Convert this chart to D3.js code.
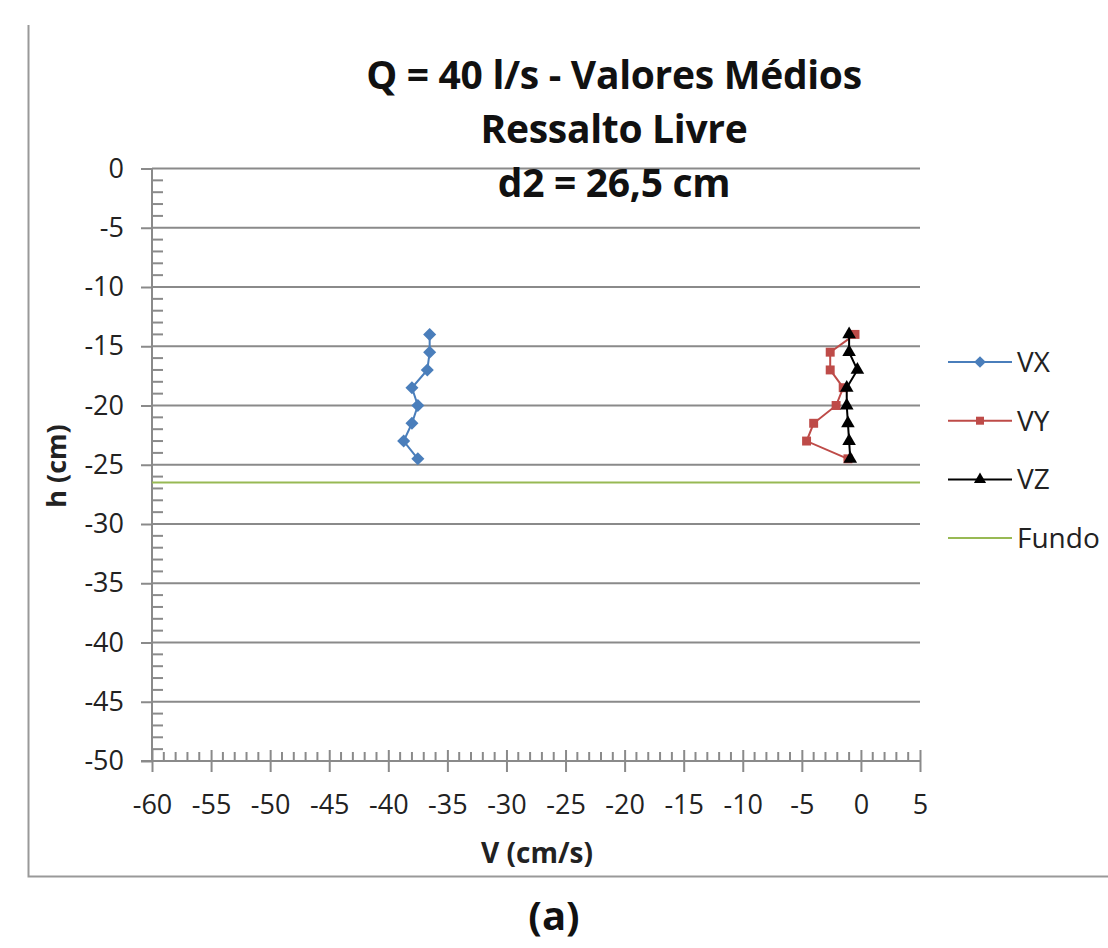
<!DOCTYPE html>
<html>
<head>
<meta charset="utf-8">
<script src="https://cdn.jsdelivr.net/npm/d3@7"></script>
<style>
  body { margin: 0; background: #fff; }
  svg { display: block; font-family: "Open Sans", Lato, sans-serif; }
</style>
</head>
<body>
<svg id="chart" width="1108" height="948"></svg>
<script>
// ----------- DATA -----------
const hLevels = [-14, -15.5, -17, -18.5, -20, -21.5, -23, -24.5];
const vx = [-36.5, -36.5, -36.7, -38.0, -37.5, -38.0, -38.7, -37.5];
const vy = [-0.5, -2.6, -2.6, -1.5, -2.1, -4.0, -4.6, -1.1];
const vz = [-1.0, -1.0, -0.3, -1.2, -1.2, -1.1, -1.0, -0.9];
const fundoH = -26.5;
const xTicks = d3.range(-60, 6, 5);
const yTicks = d3.range(0, -51, -5);
const titleLines = ["Q = 40 l/s - Valores Médios", "Ressalto Livre", "d2 = 26,5 cm"];

const series = [
  { name: "VX", values: vx, color: "#4a7ebb", symbol: d3.symbolSquare, size: 85, rot: 45 },
  { name: "VY", values: vy, color: "#be4b48", symbol: d3.symbolSquare, size: 80, rot: 0 },
  { name: "VZ", values: vz, color: "#000000", symbol: d3.symbolTriangle, size: 80, rot: 0 }
];

// ----------- SCALES -----------
const svg = d3.select("#chart");
const x = d3.scaleLinear().domain([-60, 5]).range([152, 920]);
const y = d3.scaleLinear().domain([0, -50]).range([168.5, 761]);
const axisColor = "#8a8a8a";
const fmt = d => String(d);

// outer frame (left + bottom only)
svg.append("path")
  .attr("d", "M28.5,25 V876.5 H1108")
  .attr("fill", "none")
  .attr("stroke", "#999")
  .attr("stroke-width", 2);

// gridlines
svg.append("g").selectAll("line")
  .data(yTicks.filter(t => t !== -50))
  .enter().append("line")
  .attr("x1", x(-60)).attr("x2", x(5))
  .attr("y1", d => y(d)).attr("y2", d => y(d))
  .attr("stroke", axisColor).attr("stroke-width", 2);

// y axis: major ticks outward, minor ticks inward
const yAxis = svg.append("g").attr("transform", `translate(${x(-60)},0)`);
yAxis.call(d3.axisLeft(y).tickValues(yTicks).tickFormat(fmt).tickSize(11).tickPadding(17))
  .call(g => g.select(".domain").remove())
  .attr("font-family", null).attr("font-size", 27);
yAxis.selectAll(".tick line").attr("stroke", axisColor).attr("stroke-width", 2);
yAxis.selectAll(".tick text").attr("fill", "#222");
yAxis.append("g").selectAll("line")
  .data(d3.range(0, -50, -1).filter(v => v % 5 !== 0))
  .enter().append("line")
  .attr("x1", 0).attr("x2", 11)
  .attr("y1", d => y(d)).attr("y2", d => y(d))
  .attr("stroke", axisColor).attr("stroke-width", 2);
yAxis.append("line")
  .attr("y1", y(0)).attr("y2", y(-50))
  .attr("stroke", axisColor).attr("stroke-width", 2);

// x axis: major ticks cross, minor ticks inward
const xAxis = svg.append("g").attr("transform", `translate(0,${y(-50)})`);
xAxis.call(d3.axisBottom(x).tickValues(xTicks).tickFormat(fmt).tickSize(11).tickPadding(23))
  .call(g => g.select(".domain").remove())
  .attr("font-family", null).attr("font-size", 27);
xAxis.selectAll(".tick line").attr("y1", -11).attr("stroke", axisColor).attr("stroke-width", 2);
xAxis.selectAll(".tick text").attr("fill", "#222");
xAxis.append("g").selectAll("line")
  .data(d3.range(-59, 5, 1).filter(v => v % 5 !== 0))
  .enter().append("line")
  .attr("x1", d => x(d)).attr("x2", d => x(d))
  .attr("y1", 0).attr("y2", -9)
  .attr("stroke", axisColor).attr("stroke-width", 2);
xAxis.append("line")
  .attr("x1", x(-60) - 11).attr("x2", x(5))
  .attr("stroke", axisColor).attr("stroke-width", 2);

// Fundo line
svg.append("line")
  .attr("x1", x(-60)).attr("x2", x(5))
  .attr("y1", y(fundoH)).attr("y2", y(fundoH))
  .attr("stroke", "#98b954").attr("stroke-width", 2);

// series
const line = d3.line().x(d => x(d[0])).y(d => y(d[1]));
series.forEach(s => {
  const pts = s.values.map((v, i) => [v, hLevels[i]]);
  svg.append("path")
    .datum(pts)
    .attr("d", line)
    .attr("fill", "none")
    .attr("stroke", s.color)
    .attr("stroke-width", 2);
  svg.append("g").selectAll("path")
    .data(pts)
    .enter().append("path")
    .attr("transform", d => `translate(${x(d[0])},${y(d[1])}) rotate(${s.rot})`)
    .attr("d", d3.symbol().type(s.symbol).size(s.size))
    .attr("fill", s.color);
});

// legend
const legendItems = series.concat([{ name: "Fundo", color: "#98b954", symbol: null }]);
const legend = svg.append("g");
legendItems.forEach((s, i) => {
  const ly = 362 + i * 58.7;
  legend.append("line")
    .attr("x1", 948).attr("x2", 1012)
    .attr("y1", ly).attr("y2", ly)
    .attr("stroke", s.color).attr("stroke-width", 2);
  if (s.symbol) {
    legend.append("path")
      .attr("transform", `translate(980,${ly}) rotate(${s.rot})`)
      .attr("d", d3.symbol().type(s.symbol).size(s.size * 0.8))
      .attr("fill", s.color);
  }
  legend.append("text")
    .attr("x", 1017).attr("y", ly + 10)
    .attr("font-size", 28).attr("fill", "#222")
    .text(s.name);
});

// titles
svg.append("g").selectAll("text")
  .data(titleLines)
  .enter().append("text")
  .attr("x", 614)
  .attr("y", (d, i) => 89 + i * 54)
  .attr("text-anchor", "middle")
  .attr("font-size", 39)
  .attr("font-weight", "bold")
  .attr("letter-spacing", -0.3)
  .attr("fill", "#111")
  .text(d => d);

svg.append("text")
  .attr("x", 537).attr("y", 863)
  .attr("text-anchor", "middle")
  .attr("font-size", 28).attr("font-weight", "bold").attr("fill", "#222")
  .text("V (cm/s)");

svg.append("text")
  .attr("transform", "translate(66,466) rotate(-90)")
  .attr("text-anchor", "middle")
  .attr("font-size", 27).attr("font-weight", "bold").attr("fill", "#222")
  .text("h (cm)");

svg.append("text")
  .attr("x", 554).attr("y", 930)
  .attr("text-anchor", "middle")
  .attr("font-size", 40).attr("font-weight", "bold").attr("fill", "#111")
  .text("(a)");
</script>
</body>
</html>
